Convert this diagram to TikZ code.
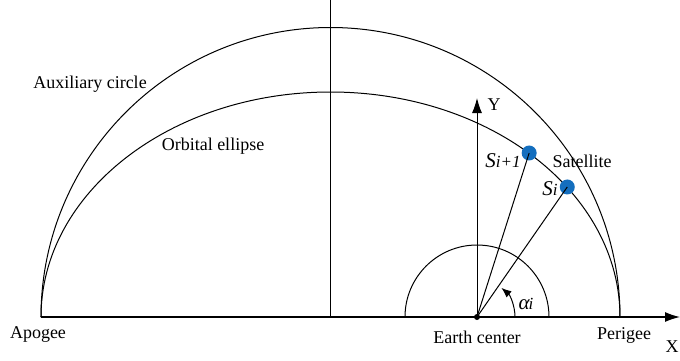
\documentclass[tikz,border=0pt]{standalone}
\usepackage{fontspec}
\setmainfont{Liberation Serif}
\usepackage{tikz}
\usetikzlibrary{arrows.meta, positioning, calc}
\definecolor{satblue}{RGB}{20, 110, 190}

\tikzset{
  lbl/.style={font=\fontsize{18}{20}\selectfont, inner sep=1pt},
  idx/.style={font=\fontsize{21}{22}\selectfont\itshape, inner sep=1pt},
  satdot/.style={circle, fill=satblue, inner sep=0pt, minimum size=15pt},
  axis/.style={line width=1.3pt, -{Latex[length=15pt, width=10pt]}},
  ray/.style={line width=1pt}
}
\newcommand{\subidx}[1]{{\fontsize{17}{18}\selectfont #1}}

\begin{document}
\begin{tikzpicture}[x=1pt, y=1pt, line width=1pt]
\useasboundingbox (-331,-43) rectangle (349,317);

% axes
\coordinate (apo) at (-290,0);
\coordinate (peri) at (289,0);
\coordinate (ctr) at (0,0);
\coordinate (top) at (0,317);
\coordinate (xend) at (349,0);
\coordinate (earth) at (146,0);
\coordinate (yend) at (146,219);
\draw[line width=1.3pt] (apo) -- (earth);
\draw[axis] (earth) -- (xend);
\draw (ctr) -- (top);
\draw[axis, line width=1pt] (earth) -- (yend);

% auxiliary circle and orbital ellipse
\draw (apo) arc[start angle=180, end angle=0, radius=289.5];
\draw (apo) arc[start angle=180, end angle=0, x radius=289.5, y radius=225];

% earth
\draw (earth) ++(72,0) arc[start angle=0, end angle=180, radius=72];
\fill (earth) circle (3);

% satellites
\node[satdot] (sb) at (46.8:289.5 and 225) {};
\node[satdot] (sa) at (35.3:289.5 and 225) {};
\draw[ray] (earth) -- (sb.center);
\draw[ray] (earth) -- (sa.center);

% angle
\draw[-{Latex[length=10pt, width=8pt]}] (earth) ++(38,0) arc[start angle=0, end angle=50, radius=38];

% labels
\node[lbl] (auxlbl) at (-241,233) {Auxiliary circle};
\node[lbl] (elllbl) at (-118,171) {Orbital ellipse};
\node[lbl] (apolbl) at (-293,-17) {Apogee};
\node[lbl] (earthlbl) at (146,-20) {Earth center};
\node[lbl] (perilbl) at (293,-18) {Perigee};
\node[lbl] (xlbl) at (341,-30) {X};
\node[lbl] (ylbl) at (163,212) {Y};
\node[lbl] (satlbl) at (251,156) {Satellite};
\node[idx, anchor=base] (sblbl) at (172,150) {S\subidx{i+1}};
\node[idx, anchor=base] (salbl) at (219,122) {S\subidx{i}};
\node[idx, anchor=base] (alpha) at (195,8) {α\kern-1pt\subidx{i}};

\end{tikzpicture}
\end{document}
